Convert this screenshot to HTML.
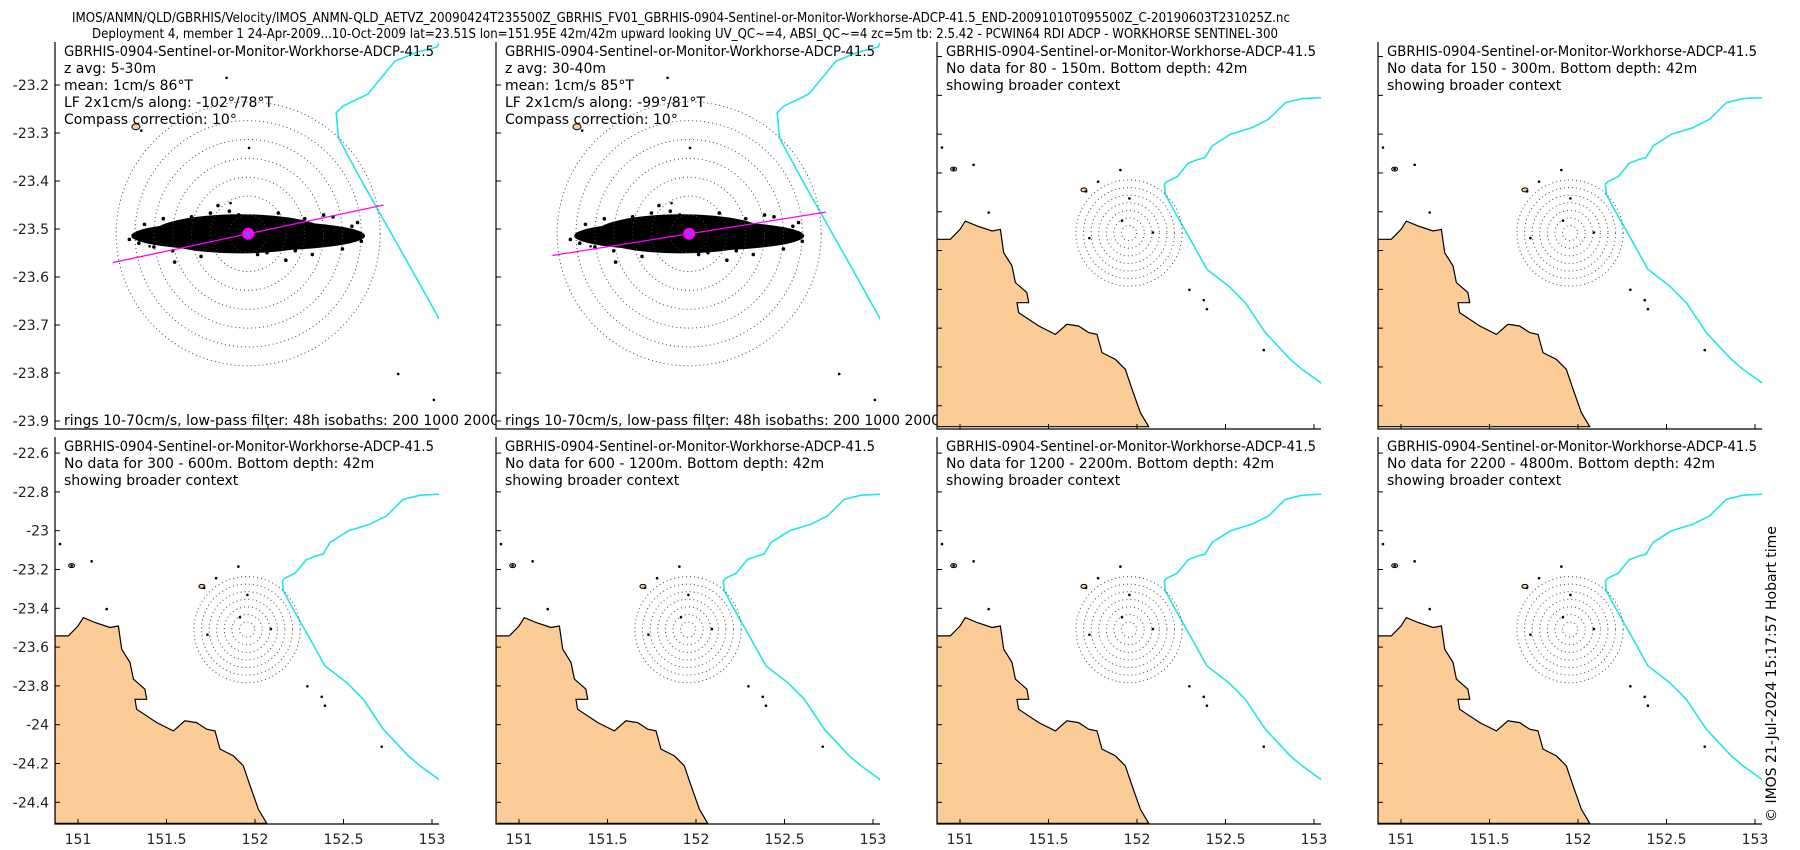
<!DOCTYPE html>
<html><head><meta charset="utf-8">
<style>
html,body{margin:0;padding:0;background:#fff;}
svg{display:block;font-family:"DejaVu Sans","Liberation Sans",sans-serif;}
</style></head>
<body>
<svg id="fig" width="1800" height="850" viewBox="0 0 1800 850" xmlns="http://www.w3.org/2000/svg">
<rect width="1800" height="850" fill="#fff"/>
<text x="72" y="22" font-size="13" textLength="1218" lengthAdjust="spacingAndGlyphs">IMOS/ANMN/QLD/GBRHIS/Velocity/IMOS_ANMN-QLD_AETVZ_20090424T235500Z_GBRHIS_FV01_GBRHIS-0904-Sentinel-or-Monitor-Workhorse-ADCP-41.5_END-20091010T095500Z_C-20190603T231025Z.nc</text>
<text x="92" y="38" font-size="13" textLength="1186" lengthAdjust="spacingAndGlyphs">Deployment 4, member 1 24-Apr-2009...10-Oct-2009 lat=23.51S lon=151.95E 42m/42m upward looking UV_QC~=4, ABSI_QC~=4 zc=5m tb: 2.5.42 - PCWIN64 RDI ADCP - WORKHORSE SENTINEL-300</text>
<text transform="translate(1776,822) rotate(-90)" font-size="14">© IMOS 21-Jul-2024 15:17:57 Hobart time</text>
<g id="panels"></g>
</svg>
<script>
// ---- data ----
const coastLon=[150.870,150.945,151.000,151.030,151.096,151.181,151.228,151.247,151.294,151.313,151.378,151.388,151.322,151.331,151.445,151.539,151.604,151.670,151.727,151.774,151.802,151.878,151.934,151.972,152.019,152.066,150.870];
const coastLat=[-23.542,-23.542,-23.491,-23.448,-23.473,-23.499,-23.491,-23.611,-23.679,-23.765,-23.817,-23.869,-23.869,-23.920,-23.989,-24.032,-23.980,-23.989,-24.023,-24.032,-24.126,-24.161,-24.212,-24.315,-24.436,-24.508,-24.508];
const isoLon=[153.045,152.932,152.838,152.744,152.650,152.527,152.424,152.384,152.341,152.289,152.227,152.170,152.155,152.160,152.216,152.311,152.395,152.518,152.612,152.725,152.866,152.932,153.045];
const isoLat=[-22.812,-22.817,-22.838,-22.923,-22.966,-23.001,-23.061,-23.121,-23.131,-23.150,-23.219,-23.244,-23.258,-23.310,-23.405,-23.559,-23.697,-23.783,-23.869,-24.023,-24.161,-24.212,-24.286];
const reefLon=[151.915,151.957,151.712,151.780,151.906,151.731,152.090,152.296,152.377,152.395,152.716,150.898,150.964,151.077,151.162];
const reefLat=[-23.446,-23.331,-23.295,-23.245,-23.185,-23.536,-23.507,-23.802,-23.856,-23.902,-24.113,-23.069,-23.180,-23.158,-23.404];
const islandLon=[151.700,150.964];
const islandLat=[-23.287,-23.180];
const ringSpeeds=[10,20,30,40,50,60,70];
const siteLon=151.955, siteLat=-23.51;
const alongAngles=[78,81];
const alongLength=[68,68];
const cloudRx=[62,61], cloudRy=[8,8];
const outlierU=[-16,-10,-39,-63,34,58,16,-45,45,-25,20,-55,-50,-30,-5,10,30,50,55,-40,-20,5,25,40,-58,60];
const outlierV=[15,12,-15,-3,-11,6,11,8,9,-12,-14,5,-7,9,10,-10,8,-8,4,-9,11,-11,-9,10,-5,-4];
const yTicksTop=[-23.2,-23.3,-23.4,-23.5,-23.6,-23.7,-23.8,-23.9];
const yTicksBottom=[-22.6,-22.8,-23,-23.2,-23.4,-23.6,-23.8,-24,-24.2,-24.4];
const xTicks=[151,151.5,152,152.5,153];
const panelNotes=[
 ["z avg: 5-30m","mean: 1cm/s 86°T","LF 2x1cm/s along: -102°/78°T","Compass correction: 10°"],
 ["z avg: 30-40m","mean: 1cm/s 85°T","LF 2x1cm/s along: -99°/81°T","Compass correction: 10°"],
 ["No data for 80 - 150m. Bottom depth: 42m","showing broader context"],
 ["No data for 150 - 300m. Bottom depth: 42m","showing broader context"],
 ["No data for 300 - 600m. Bottom depth: 42m","showing broader context"],
 ["No data for 600 - 1200m. Bottom depth: 42m","showing broader context"],
 ["No data for 1200 - 2200m. Bottom depth: 42m","showing broader context"],
 ["No data for 2200 - 4800m. Bottom depth: 42m","showing broader context"]
];
const instrument="GBRHIS-0904-Sentinel-or-Monitor-Workhorse-ADCP-41.5";
const ringDegPerCms=0.3/70;

// ---- layout ----
const NS="http://www.w3.org/2000/svg";
const root=document.getElementById('panels');
function mk(tag,attrs,parent){const e=document.createElementNS(NS,tag);for(const k in attrs)e.setAttribute(k,attrs[k]);(parent||root).appendChild(e);return e;}
const colX=[55,496,937,1378], W=384, H=387;
const rowY=[42,437];

for(let p=0;p<8;p++){
  const row=p<4?0:1, col=p%4;
  const x0=colX[col], y0=rowY[row];
  const zoomed=(p<2);
  let lonL,kx,latT,ky;
  if(zoomed){lonL=151.516;kx=440;latT=-23.1104;ky=480;}
  else{lonL=150.87;kx=177;ky=194;latT=row===0?-22.525:-22.517;}
  const X=lon=>x0+(lon-lonL)*kx;
  const Y=lat=>y0+(latT-lat)*ky;
  const g=mk('g',{});
  
  
  const cp=mk('clipPath',{id:'cp'+p},g);
  mk('rect',{x:x0,y:y0,width:W,height:H},cp);
  const inner=mk('g',{'clip-path':'url(#cp'+p+')'},g);
  let d='';coastLon.forEach((v,i)=>{d+=(i?'L':'M')+X(v).toFixed(1)+' '+Y(coastLat[i]).toFixed(1);});
  const land=mk('path',{d:d+'Z',fill:'#fccc96',stroke:'#000','stroke-width':1.2},inner);
  
  
  islandLon.forEach((v,i)=>{const e=mk('ellipse',{cx:X(v),cy:Y(islandLat[i]),rx:zoomed?4:3,ry:zoomed?3:2,fill:'#fccc96',stroke:'#000','stroke-width':1},inner);
    });
  reefLon.forEach((v,i)=>{const e=mk('circle',{cx:X(v),cy:Y(reefLat[i]),r:1.3,fill:'#000'},inner);
    });
  let di='';isoLon.forEach((v,i)=>{di+=(i?'L':'M')+X(v).toFixed(1)+' '+Y(isoLat[i]).toFixed(1);});
  const iso=mk('path',{d:di,fill:'none',stroke:'#22e6e6','stroke-width':1.6},inner);
  
  
  const cx=X(siteLon), cy=Y(siteLat), pxPerCms=ringDegPerCms*kx;
  if(zoomed){
    const cl=mk('ellipse',{cx:cx,cy:cy+2,rx:cloudRx[p]*pxPerCms,ry:cloudRy[p]*pxPerCms,fill:'#000'},inner);
    
    
    const cl2=mk('ellipse',{cx:cx-8,cy:cy,rx:cloudRx[p]*pxPerCms*0.75,ry:cloudRy[p]*pxPerCms*1.3,fill:'#000'},inner);
    
    
    outlierU.forEach((u,i)=>{const e=mk('circle',{cx:cx+u*pxPerCms,cy:cy-outlierV[i]*pxPerCms,r:1.8,fill:'#000'},inner);
      });
  }
  ringSpeeds.forEach(s=>{const e=mk('circle',{cx:cx,cy:cy,r:s*pxPerCms,fill:'none',stroke:'#444','stroke-width':1,'stroke-dasharray':'1 3'},inner);
    });
  if(zoomed){
    const a=(90-alongAngles[p])*Math.PI/180, L=alongLength[p]*pxPerCms*1.08;
    const ln=mk('line',{x1:cx-L*Math.cos(a),y1:cy+L*Math.sin(a),x2:cx+L*Math.cos(a),y2:cy-L*Math.sin(a),stroke:'#ff00ff','stroke-width':1.3},inner);
    
    
    const m=mk('ellipse',{cx:cx,cy:cy,rx:6,ry:6,fill:'#ff00ff'},inner);
    
    
    const m2=mk('circle',{cx:cx,cy:cy,r:2,fill:'#2a7fff'},inner);
    
    
  }
  const ax=mk('path',{d:`M${x0} ${y0}V${y0+H}H${x0+W}`,fill:'none',stroke:'#000','stroke-width':1.2},g);
  
  
  const yt=zoomed?yTicksTop:yTicksBottom;
  yt.forEach(v=>{const yy=Y(v);if(yy<y0||yy>y0+H)return;
    mk('line',{x1:x0,y1:yy,x2:x0+5,y2:yy,stroke:'#000'},g);
    if(col===0){const t=mk('text',{x:x0-6,y:yy+5,'font-size':14,'text-anchor':'end',fill:'#222'},g);t.textContent=String(v);
      }
  });
  xTicks.forEach(v=>{const xx=X(v);if(xx<x0||xx>x0+W)return;
    mk('line',{x1:xx,y1:y0+H,x2:xx,y2:y0+H-5,stroke:'#000'},g);
    if(row===1){const t=mk('text',{x:xx,y:y0+H+20,'font-size':14,'text-anchor':'middle',fill:'#222'},g);t.textContent=String(v);
      }
  });
  const t0=mk('text',{x:x0+9,y:y0+14,'font-size':14,textLength:370,lengthAdjust:'spacingAndGlyphs'},g);
  t0.textContent=instrument;
  
  
  panelNotes[p].forEach((s,i)=>{const t=mk('text',{x:x0+9,y:y0+31+i*17,'font-size':14},g);t.textContent=s;
    });
  if(zoomed){
    const cp2=mk('clipPath',{id:'ct'+p},g);
    mk('rect',{x:x0,y:y0+H-25,width:441,height:25},cp2);
    const t=mk('text',{x:x0+9,y:y0+H-4,'font-size':14,'clip-path':'url(#ct'+p+')'},g);
    t.textContent="rings 10-70cm/s, low-pass filter: 48h isobaths: 200 1000 2000 4000";
    
    
  }
}
</script>
</body></html>
